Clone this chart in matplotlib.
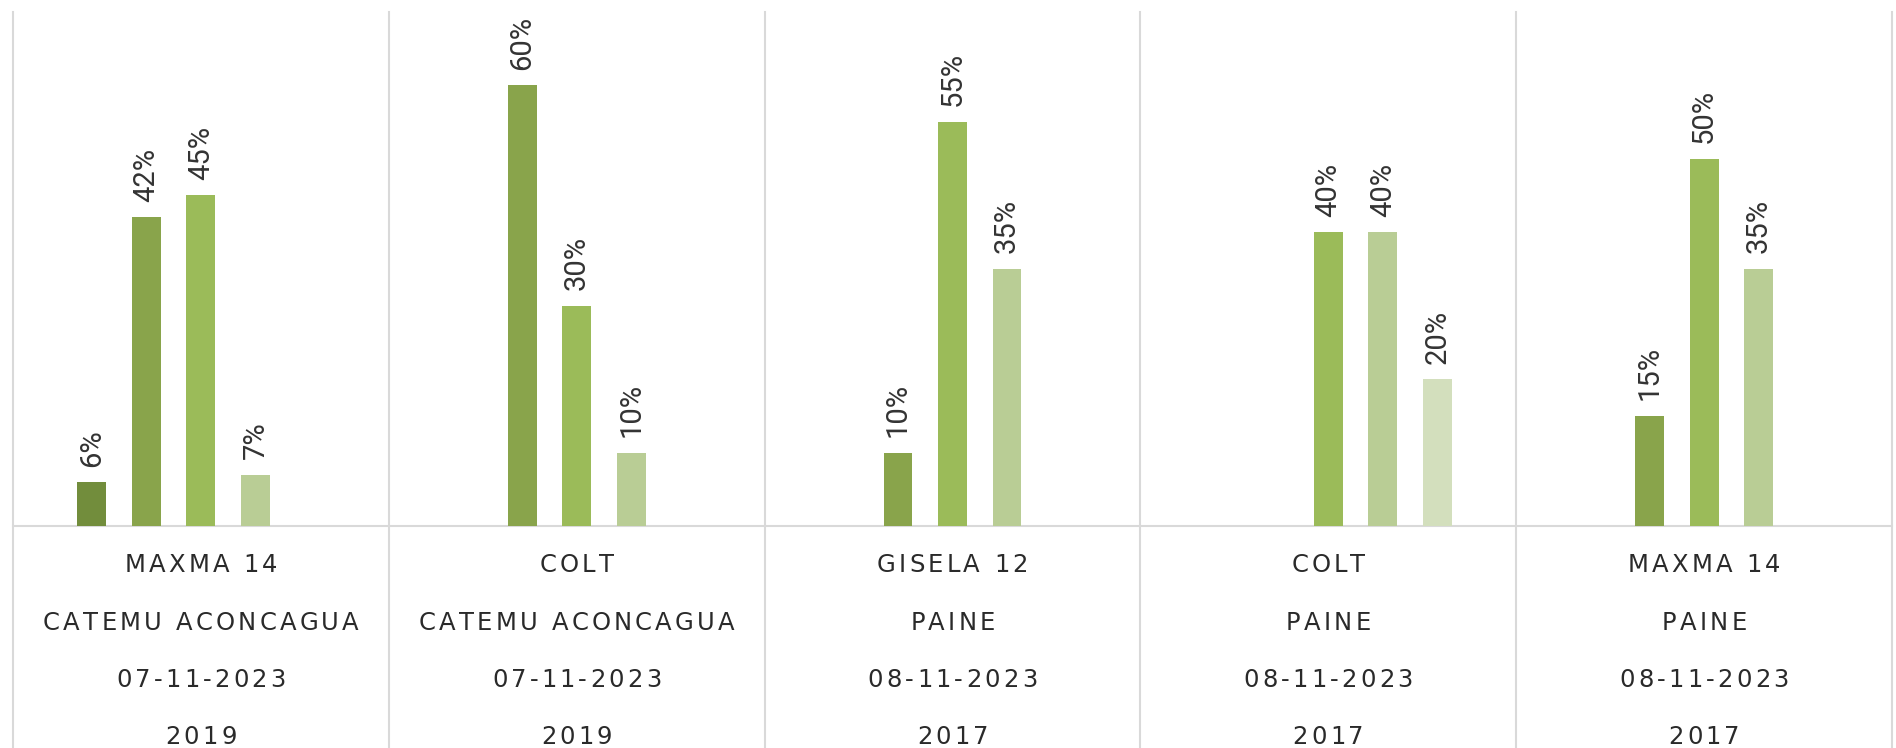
import numpy as np
import matplotlib
matplotlib.use("Agg")
import matplotlib.pyplot as plt
from matplotlib.transforms import IdentityTransform
from matplotlib.font_manager import FontProperties

# ---------------- data ----------------
portainjerto = ["MAXMA 14", "COLT", "GISELA 12", "COLT", "MAXMA 14"]
localidad = ["CATEMU ACONCAGUA", "CATEMU ACONCAGUA", "PAINE", "PAINE", "PAINE"]
fecha = ["07-11-2023", "07-11-2023", "08-11-2023", "08-11-2023", "08-11-2023"]
anio = ["2019", "2019", "2017", "2017", "2017"]

nan = np.nan
serie_1 = [6, nan, nan, nan, nan]
serie_2 = [42, 60, 10, nan, 15]
serie_3 = [45, 30, 55, 40, 50]
serie_4 = [7, 10, 35, 40, 35]
serie_5 = [nan, nan, nan, 20, nan]
series = [serie_1, serie_2, serie_3, serie_4, serie_5]
colors = ["#728d3c", "#89a44b", "#9bbb59", "#b9cd95", "#d3dfbd"]

# ---------------- figure ----------------
W, H, DPI = 1896, 748, 100
fig = plt.figure(figsize=(W / DPI, H / DPI), dpi=DPI)
fig.patch.set_facecolor("white")

ax_left, ax_right, ax_top, ax_bottom = 13, 1892, 11.5, 526
ax = fig.add_axes([ax_left / W, (H - ax_bottom) / H,
                   (ax_right - ax_left) / W, (ax_bottom - ax_top) / H])

n_cat = len(portainjerto)
x = np.arange(n_cat) + 0.5
slot = 0.145
bar_w = 0.077
text_color = "#333333"
grid_color = "#d9d9d9"

for i, (vals, col) in enumerate(zip(series, colors)):
    vals = np.array(vals, dtype=float)
    pos = x + (i - 2) * slot
    bars = ax.bar(pos, vals, width=bar_w, color=col, linewidth=0, zorder=3)
    for b, v in zip(bars, vals):
        if np.isnan(v):
            continue
        ax.annotate(f"{v:.0f}%", (b.get_x() + b.get_width() / 2, v),
                    xytext=(0, 11), textcoords="offset points",
                    rotation=90, ha="center", va="bottom",
                    fontsize=21, color=text_color, family=["Roboto", "DejaVu Sans"])

ax.set_xlim(0, n_cat)
ax.set_ylim(0, 70)
ax.set_xticks([])
ax.set_yticks([])
for s in ["top", "left", "right"]:
    ax.spines[s].set_visible(False)
ax.spines["bottom"].set_color(grid_color)
ax.spines["bottom"].set_linewidth(1.5)

# category boundary lines through plot and label area
ext = -(H - ax_bottom) / (ax_bottom - ax_top)
for b in range(n_cat + 1):
    ax.plot([b, b], [ext, 1.0], transform=ax.get_xaxis_transform(),
            color=grid_color, lw=1.5, clip_on=False, zorder=1)

# ---------------- multi-level category labels with letter spacing ----------------
fig.canvas.draw()
renderer = fig.canvas.get_renderer()
prop = FontProperties(family="DejaVu Sans", size=17.5)
tracking = 3.2  # px between characters


def char_width(ch):
    if ch == " ":
        return (renderer.get_text_width_height_descent("a a", prop, ismath=False)[0]
                - renderer.get_text_width_height_descent("aa", prop, ismath=False)[0])
    return renderer.get_text_width_height_descent(ch, prop, ismath=False)[0]


def tracked_text(cx_px, baseline_px, s):
    widths = [char_width(ch) for ch in s]
    total = sum(widths) + tracking * (len(s) - 1)
    xx = cx_px - total / 2
    for ch, w in zip(s, widths):
        if ch != " ":
            fig.text(xx, baseline_px, ch, transform=IdentityTransform(),
                     fontproperties=prop, color="#2a2a2a", ha="left", va="baseline")
        xx += w + tracking


levels = [portainjerto, localidad, fecha, anio]
baselines_from_top = [571.5, 629.5, 687, 744]
for j in range(n_cat):
    cx = ax.transData.transform((x[j], 0))[0]
    for lev, by in zip(levels, baselines_from_top):
        tracked_text(cx, H - by, lev[j])

fig.savefig("out.png", dpi=DPI, facecolor="white")
